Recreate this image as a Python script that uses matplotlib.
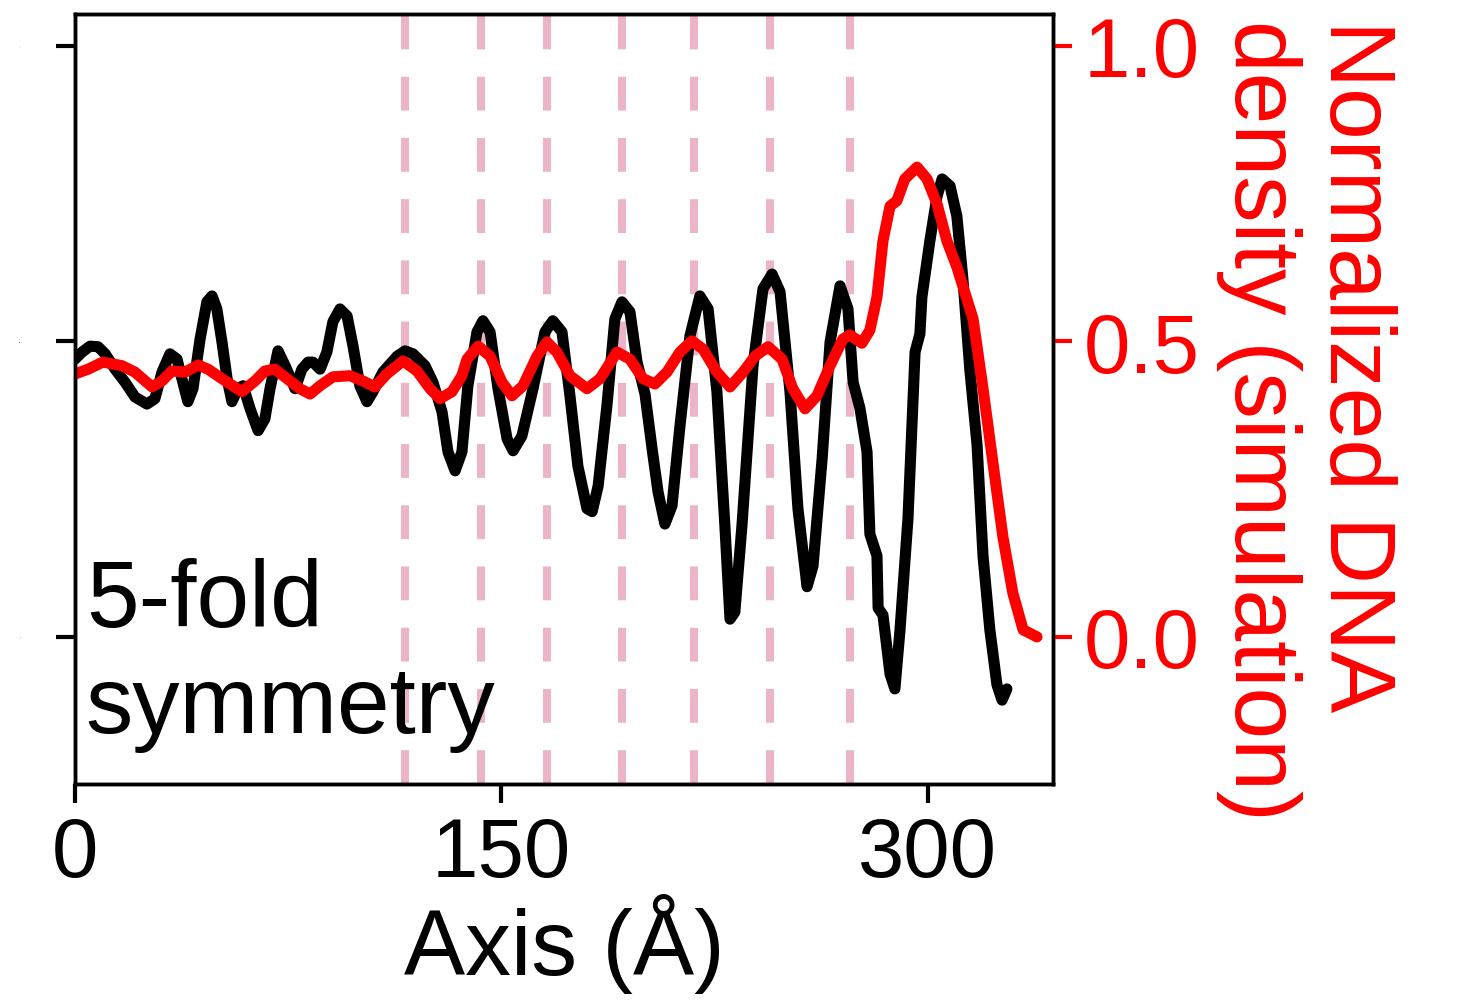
"""Axial DNA density profile: measured (black) vs simulation (red)."""

import matplotlib
matplotlib.use("Agg")
import matplotlib.pyplot as plt

plt.rcParams["font.family"] = ["Liberation Sans", "DejaVu Sans"]

# measured profile (left axis, arbitrary units)
axis_pos = [0.0, 2.5, 5.3, 8.1, 10.6, 14.1, 17.6, 21.1, 25.3, 28.1, 30.6, 33.4, 35.9, 37.6,
            39.7, 41.5, 44.0, 46.4, 48.2, 49.9, 51.7, 53.5, 55.2, 57.3, 59.1, 61.6, 64.4,
            66.8, 68.6, 71.4, 73.9, 77.4, 79.8, 82.0, 83.7, 86.2, 88.6, 90.7, 93.2, 95.7,
            97.8, 100.2, 102.7, 104.8, 108.3, 113.3, 116.1, 118.9, 123.1, 125.9, 129.1,
            131.2, 133.7, 136.1, 138.2, 141.4, 143.5, 146.0, 148.8, 152.0, 154.1, 157.2,
            161.1, 165.3, 168.1, 171.3, 174.1, 176.9, 180.1, 181.9, 184.0, 187.1, 189.9,
            192.4, 195.2, 197.7, 200.5, 203.0, 205.1, 207.5, 210.0, 212.8, 216.3, 219.8,
            222.7, 225.8, 228.6, 230.4, 232.1, 234.6, 238.5, 242.0, 245.2, 248.0, 251.5,
            254.3, 257.5, 259.6, 262.8, 265.6, 269.1, 271.9, 273.7, 276.1, 278.6, 279.6,
            282.1, 282.5, 284.2, 286.7, 288.4, 290.2, 293.0, 295.5, 297.2, 297.9, 300.7,
            303.2, 305.0, 307.8, 310.2, 312.3, 314.8, 317.3, 319.4, 321.8, 324.3, 326.1,
            327.8]
measured = [0.470, 0.482, 0.492, 0.491, 0.479, 0.453, 0.431, 0.406, 0.394, 0.403, 0.448,
            0.479, 0.470, 0.437, 0.398, 0.420, 0.504, 0.567, 0.577, 0.555, 0.499, 0.437,
            0.398, 0.420, 0.425, 0.386, 0.349, 0.369, 0.420, 0.484, 0.459, 0.420, 0.453,
            0.465, 0.465, 0.453, 0.482, 0.533, 0.555, 0.543, 0.492, 0.425, 0.398, 0.415,
            0.448, 0.475, 0.484, 0.479, 0.459, 0.431, 0.381, 0.313, 0.281, 0.313, 0.425,
            0.516, 0.535, 0.516, 0.420, 0.335, 0.315, 0.340, 0.420, 0.516, 0.535, 0.516,
            0.408, 0.289, 0.217, 0.212, 0.255, 0.391, 0.538, 0.567, 0.550, 0.465, 0.411,
            0.318, 0.245, 0.191, 0.222, 0.357, 0.509, 0.577, 0.555, 0.415, 0.188, 0.030,
            0.042, 0.188, 0.459, 0.589, 0.614, 0.584, 0.415, 0.217, 0.085, 0.120, 0.301,
            0.499, 0.594, 0.555, 0.431, 0.387, 0.313, 0.174, 0.137, 0.049, 0.037, -0.063,
            -0.088, 0.012, 0.200, 0.482, 0.513, 0.575, 0.670, 0.745, 0.775, 0.763, 0.712,
            0.607, 0.450, 0.325, 0.137, 0.012, -0.081, -0.107, -0.088]

# simulated profile (right axis)
sim_pos = [0.0, 4.6, 9.8, 16.5, 21.1, 27.1, 30.6, 34.1, 38.7, 43.3, 46.8, 51.7, 58.7, 63.3,
           66.8, 70.3, 74.6, 79.1, 82.7, 86.2, 90.7, 96.7, 101.3, 105.5, 109.7, 115.4,
           120.3, 124.9, 128.4, 132.6, 136.1, 137.9, 141.8, 146.0, 150.2, 153.7, 157.6,
           162.5, 166.0, 169.5, 174.1, 180.1, 184.7, 190.6, 195.2, 199.8, 204.0, 208.2,
           212.8, 217.0, 220.9, 225.8, 230.4, 235.0, 239.2, 243.8, 248.7, 252.5, 256.8,
           261.0, 265.6, 270.1, 272.6, 276.8, 279.6, 282.1, 284.2, 286.7, 289.1, 291.9,
           296.2, 299.7, 303.2, 306.7, 310.2, 315.9, 319.4, 322.9, 326.4, 329.9, 333.5,
           338.4]
simulated = [0.445, 0.453, 0.465, 0.459, 0.448, 0.423, 0.433, 0.450, 0.448, 0.460, 0.453,
             0.437, 0.415, 0.433, 0.450, 0.453, 0.437, 0.420, 0.411, 0.425, 0.440, 0.442,
             0.433, 0.423, 0.445, 0.467, 0.450, 0.420, 0.403, 0.415, 0.442, 0.470, 0.492,
             0.475, 0.431, 0.408, 0.425, 0.475, 0.499, 0.482, 0.442, 0.420, 0.437, 0.482,
             0.470, 0.437, 0.428, 0.448, 0.482, 0.501, 0.487, 0.448, 0.423, 0.448, 0.475,
             0.491, 0.470, 0.420, 0.386, 0.408, 0.459, 0.504, 0.511, 0.497, 0.519, 0.575,
             0.670, 0.729, 0.738, 0.775, 0.795, 0.775, 0.733, 0.670, 0.626, 0.538, 0.420,
             0.294, 0.169, 0.074, 0.012, 0.000]

# helical repeat positions
repeat_pos = [116.1, 142.8, 166.0, 192.4, 217.7, 244.5, 272.6]

x_ticks = [0, 150, 300]
y_ticks = [0.0, 0.5, 1.0]

fig = plt.figure(figsize=(14.59, 10.03), dpi=100)
ax = fig.add_axes([0.0514, 0.2173, 0.6703, 0.7677])
ax2 = ax.twinx()

for xp in repeat_pos:
    ax.axvline(xp, color="#ecb4c8", linewidth=5.8, linestyle=(0, (4.2, 3.4)), zorder=1)
ax.plot(axis_pos, measured, color="black", linewidth=8, zorder=3,
        solid_joinstyle="round", solid_capstyle="round")
ax2.plot(sim_pos, simulated, color="#ff0000", linewidth=8,
         solid_joinstyle="round", solid_capstyle="round")

ax.set_xlim(0, 344)
ax.set_ylim(-0.249, 1.054)
ax2.set_ylim(-0.249, 1.054)

ax.set_xticks(x_ticks)
ax.set_yticks(y_ticks)
ax.set_yticklabels(["0", "0.5", "1"], fontsize=1)
ax2.set_yticks(y_ticks)
ax2.set_yticklabels(["0.0", "0.5", "1.0"])

ax.tick_params(axis="x", length=14, width=3, labelsize=60, pad=8)
ax.tick_params(axis="y", length=14, width=3, pad=25)
ax2.tick_params(axis="y", length=14, width=3, labelsize=60, colors="#ff0000", pad=8)

for spine in list(ax.spines.values()) + list(ax2.spines.values()):
    spine.set_linewidth(2.5)
ax2.spines["right"].set_color("black")

ax.set_xlabel("Axis (Å)", fontsize=66, labelpad=0)
ax2.set_ylabel("Normalized DNA\ndensity (simulation)", fontsize=67, color="#ff0000",
               rotation=270, va="bottom", ha="center", multialignment="left",
               linespacing=1.13)
ax2.yaxis.set_label_coords(1.167, 0.474)

ax.text(0.011, 0.295, "5-fold\nsymmetry", transform=ax.transAxes, fontsize=68,
        va="top", ha="left", linespacing=1.25)

fig.savefig("out.png", dpi=100)
